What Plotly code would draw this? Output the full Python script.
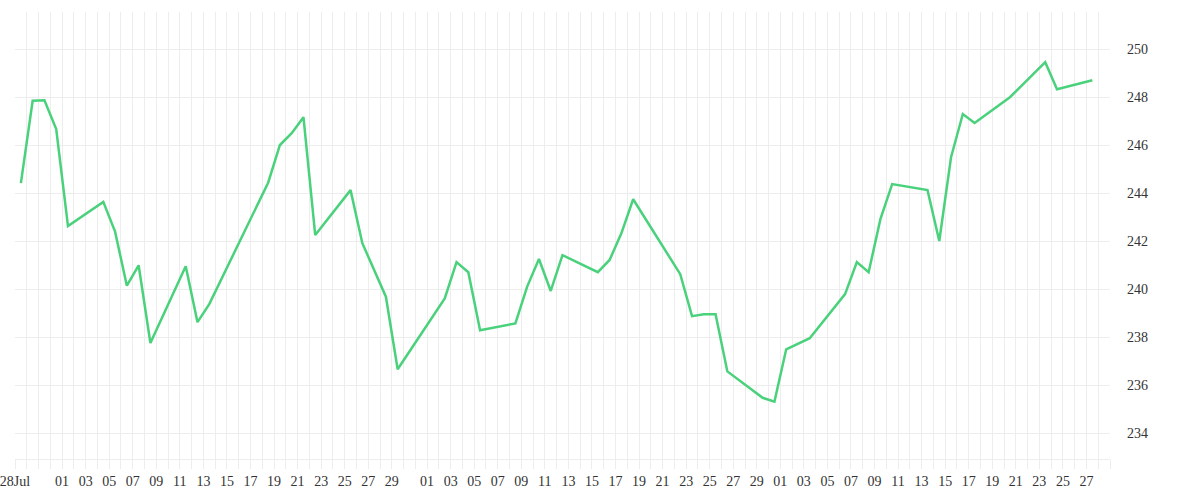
import pandas as pd
import plotly.graph_objects as go

# Trading dates (2014) and closing values
dates = [
    "2014-07-28", "2014-07-29", "2014-07-30", "2014-07-31", "2014-08-01",
    "2014-08-04", "2014-08-05", "2014-08-06", "2014-08-07", "2014-08-08",
    "2014-08-11", "2014-08-12", "2014-08-13", "2014-08-18", "2014-08-19",
    "2014-08-20", "2014-08-21", "2014-08-22", "2014-08-25", "2014-08-26",
    "2014-08-28", "2014-08-29", "2014-09-02", "2014-09-03", "2014-09-04",
    "2014-09-05", "2014-09-08", "2014-09-09", "2014-09-10", "2014-09-11",
    "2014-09-12", "2014-09-15", "2014-09-16", "2014-09-17", "2014-09-18",
    "2014-09-22", "2014-09-23", "2014-09-24", "2014-09-25", "2014-09-26",
    "2014-09-29", "2014-09-30", "2014-10-01", "2014-10-03", "2014-10-06",
    "2014-10-07", "2014-10-08", "2014-10-09", "2014-10-10", "2014-10-13",
    "2014-10-14", "2014-10-15", "2014-10-16", "2014-10-17", "2014-10-20",
    "2014-10-23", "2014-10-24", "2014-10-27",
]
values = [
    244.42, 247.85, 247.87, 246.67, 242.63,
    243.64, 242.40, 240.15, 241.00, 237.76,
    240.96, 238.63, 239.38, 244.44, 246.01,
    246.50, 247.17, 242.26, 244.13, 241.92,
    239.69, 236.67, 239.62, 241.13, 240.71,
    238.29, 238.58, 240.11, 241.26, 239.93,
    241.42, 240.71, 241.22, 242.33, 243.75,
    240.63, 238.88, 238.96, 238.96, 236.58,
    235.48, 235.32, 237.50, 237.96, 239.80,
    241.13, 240.71, 242.92, 244.38, 244.13,
    242.01, 245.50, 247.30, 246.93, 248.00,
    249.46, 248.33, 248.71,
]
y_ticks = [234, 236, 238, 240, 242, 244, 246, 248, 250]
x_start, x_end = "2014-07-28", "2014-10-29"
last_label_day = "2014-10-27"

# points sit in the middle of each day cell
x_pts = pd.to_datetime(dates) + pd.Timedelta(hours=12)

days = pd.date_range(x_start, x_end, freq="D")
tick_text = []
for d in days:
    if d == pd.Timestamp(x_start):
        tick_text.append(d.strftime("%d%b"))
    elif (d.month > 7 and d.day % 2 == 1 and d.day < 31
          and d <= pd.Timestamp(last_label_day)):
        tick_text.append(d.strftime("%d"))
    else:
        tick_text.append("")

fig = go.Figure()
fig.add_trace(go.Scatter(
    x=x_pts, y=values, mode="lines",
    line=dict(color="#4ad17c", width=2.5),
    showlegend=False,
))

grid = "#ededed"
fig.update_layout(
    width=1200, height=500,
    margin=dict(l=15, r=90, t=12, b=41),
    paper_bgcolor="white", plot_bgcolor="white",
    font=dict(family="Liberation Serif", color="#333333", size=13),
    xaxis=dict(
        type="date",
        range=[x_start, x_end],
        tickmode="array",
        tickvals=days,
        ticktext=tick_text,
        showgrid=True, gridcolor=grid, gridwidth=1,
        ticks="outside", ticklen=9, tickcolor=grid, tickwidth=1,
        showline=True, linecolor=grid, linewidth=1,
        zeroline=False,
        tickfont=dict(size=14),
        tickangle=0,
        automargin=False,
        ticklabeloverflow="allow",
    ),
    yaxis=dict(
        side="right",
        range=[232.93, 251.55],
        tickmode="array",
        tickvals=y_ticks,
        showgrid=True, gridcolor=grid, gridwidth=1,
        zeroline=False,
        ticks="",
        ticklabelstandoff=16,
        tickfont=dict(size=14),
        automargin=False,
    ),
)

fig.write_html(
    "out.html",
    config={"displayModeBar": False},
    post_script="document.body.style.margin='0';",
)
